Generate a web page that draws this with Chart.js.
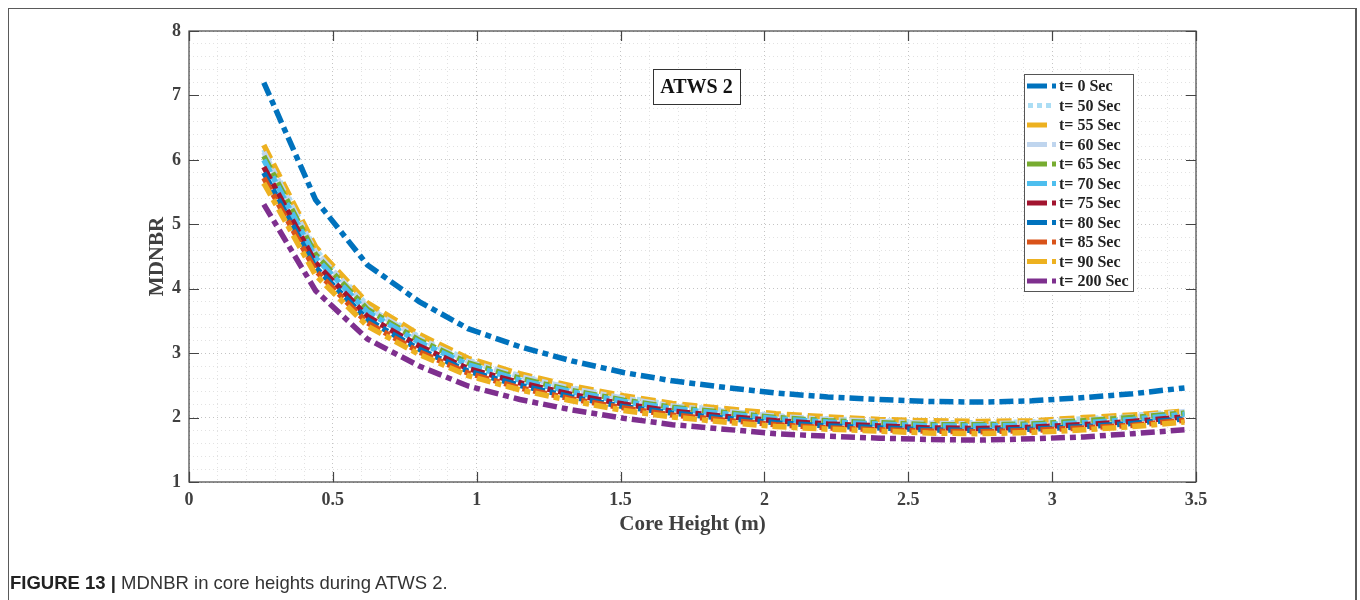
<!DOCTYPE html>
<html>
<head>
<meta charset="utf-8">
<title>MDNBR in core heights during ATWS 2</title>
<script src="https://cdn.jsdelivr.net/npm/chart.js@4.4.1/dist/chart.umd.min.js"></script>
<style>
  body { margin: 0; background: #fff; }
  #wrap { position: relative; width: 1360px; height: 600px; overflow: hidden; }
  #frame { position: absolute; left: 8px; top: 8px; width: 1349px; height: 600px;
           border: 1.5px solid #5a5a5a; border-right-width: 2px; border-bottom: none; box-sizing: border-box; }
  #chart { position: absolute; left: 0; top: 0; }
  #caption { position: absolute; left: 10px; top: 572px; font: 18.5px "Liberation Sans", Arial, sans-serif;
             color: #333; white-space: nowrap; }
  #caption b { color: #222; }
</style>
</head>
<body>
<div id="wrap">
  <div id="frame"></div>
  <canvas id="chart" width="1360" height="600"></canvas>
  <div id="caption"><b>FIGURE 13 |</b> MDNBR in core heights during ATWS 2.</div>
</div>
<script>
// core height positions (m)
const heights = [0.26, 0.44, 0.62, 0.80, 0.97, 1.15, 1.33, 1.51, 1.68, 1.86, 2.04, 2.22, 2.40, 2.57, 2.75, 2.93, 3.11, 3.28, 3.46];

const labels = ["t= 0 Sec", "t= 50 Sec", "t= 55 Sec", "t= 60 Sec", "t= 65 Sec", "t= 70 Sec",
                "t= 75 Sec", "t= 80 Sec", "t= 85 Sec", "t= 90 Sec", "t= 200 Sec"];

// MDNBR
const t0   = [7.20, 5.38, 4.37, 3.80, 3.38, 3.10, 2.88, 2.70, 2.57, 2.47, 2.38, 2.32, 2.28, 2.25, 2.24, 2.26, 2.31, 2.37, 2.46];
const t50  = [6.16, 4.60, 3.74, 3.25, 2.89, 2.65, 2.46, 2.31, 2.20, 2.11, 2.03, 1.98, 1.95, 1.92, 1.92, 1.93, 1.98, 2.03, 2.10];
const t55  = [6.23, 4.65, 3.78, 3.29, 2.92, 2.68, 2.49, 2.34, 2.22, 2.14, 2.06, 2.01, 1.97, 1.95, 1.94, 1.95, 2.00, 2.04, 2.10];
const t60  = [6.12, 4.57, 3.71, 3.23, 2.87, 2.64, 2.45, 2.30, 2.18, 2.10, 2.02, 1.97, 1.94, 1.91, 1.90, 1.92, 1.96, 2.01, 2.09];
const t65  = [6.06, 4.53, 3.68, 3.20, 2.85, 2.61, 2.42, 2.27, 2.16, 2.08, 2.00, 1.95, 1.92, 1.89, 1.89, 1.90, 1.95, 2.00, 2.07];
const t70  = [6.00, 4.48, 3.64, 3.17, 2.82, 2.58, 2.40, 2.25, 2.14, 2.06, 1.98, 1.93, 1.90, 1.87, 1.87, 1.88, 1.92, 1.97, 2.05];
const t75  = [5.89, 4.40, 3.57, 3.11, 2.76, 2.54, 2.36, 2.21, 2.10, 2.02, 1.95, 1.90, 1.87, 1.84, 1.83, 1.85, 1.89, 1.94, 2.01];
const t80  = [5.80, 4.33, 3.52, 3.06, 2.72, 2.50, 2.32, 2.17, 2.07, 1.99, 1.92, 1.87, 1.84, 1.81, 1.80, 1.82, 1.86, 1.91, 1.98];
const t85  = [5.72, 4.28, 3.47, 3.02, 2.69, 2.46, 2.29, 2.15, 2.04, 1.96, 1.89, 1.84, 1.81, 1.79, 1.78, 1.80, 1.84, 1.88, 1.96];
const t90  = [5.64, 4.21, 3.42, 2.98, 2.65, 2.43, 2.26, 2.11, 2.01, 1.93, 1.86, 1.82, 1.79, 1.76, 1.75, 1.77, 1.81, 1.86, 1.93];
const t200 = [5.31, 3.97, 3.22, 2.80, 2.49, 2.28, 2.12, 1.99, 1.89, 1.82, 1.75, 1.71, 1.68, 1.66, 1.65, 1.67, 1.70, 1.75, 1.81];

const xTicks = [0, 0.5, 1, 1.5, 2, 2.5, 3, 3.5];
const yTicks = [1, 2, 3, 4, 5, 6, 7, 8];

const series = [t0, t50, t55, t60, t65, t70, t75, t80, t85, t90, t200];
const colors = ["#0072BD", "#ABDDF4", "#EDB120", "#BFD5EE", "#77AC30", "#4DBEEE",
                "#A2142F", "#0072BD", "#D95319", "#EDB120", "#7E2F8E"];
const styles = ["dashdot", "dot", "dash", "dashdot", "dashdot", "dashdot",
                "dashdot", "dashdot", "dashdot", "dashdot", "dashdot"];
const dashFor = { dashdot: [14, 5, 6, 5], dot: [4, 5], dash: [15, 6] };

const FONT = "'Liberation Serif', 'Times New Roman', serif";
const INK = "#404040";

const near = (v, list) => list.some(t => Math.abs(v - t) < 1e-6);

const datasets = series.map((vals, i) => ({
  label: labels[i],
  data: heights.map((h, j) => ({ x: h, y: vals[j] })),
  borderColor: colors[i],
  borderWidth: 5.5,
  borderDash: dashFor[styles[i]],
  borderCapStyle: "butt",
  pointRadius: 0,
  tension: 0,
  fill: false,
  order: series.length - i
}));

// axes box, inward ticks, legend, annotation
const decor = {
  id: "decor",
  afterDraw(chart) {
    const { ctx, chartArea: a, scales: { x, y } } = chart;
    ctx.save();
    ctx.strokeStyle = "#444";
    ctx.lineWidth = 1.2;
    ctx.strokeRect(a.left, a.top, a.right - a.left, a.bottom - a.top);
    ctx.beginPath();
    xTicks.forEach(v => {
      const px = Math.round(x.getPixelForValue(v)) + 0.5;
      ctx.moveTo(px, a.bottom); ctx.lineTo(px, a.bottom - 10);
      ctx.moveTo(px, a.top); ctx.lineTo(px, a.top + 10);
    });
    yTicks.forEach(v => {
      const py = Math.round(y.getPixelForValue(v)) + 0.5;
      ctx.moveTo(a.left, py); ctx.lineTo(a.left + 10, py);
      ctx.moveTo(a.right, py); ctx.lineTo(a.right - 10, py);
    });
    ctx.stroke();

    // ATWS 2 label
    ctx.fillStyle = "#fff";
    ctx.fillRect(653, 69, 87, 35);
    ctx.strokeStyle = "#333";
    ctx.lineWidth = 1;
    ctx.strokeRect(653.5, 69.5, 87, 35);
    ctx.fillStyle = "#111";
    ctx.font = "bold 20px " + FONT;
    ctx.textAlign = "center";
    ctx.textBaseline = "middle";
    ctx.fillText("ATWS 2", 696.5, 88);

    // legend
    const lx = 1024, ly = 74, lw = 109, lh = 217, row = 19.5;
    ctx.fillStyle = "#fff";
    ctx.fillRect(lx, ly, lw, lh);
    ctx.strokeStyle = "#555";
    ctx.strokeRect(lx + 0.5, ly + 0.5, lw, lh);
    ctx.font = "bold 16px " + FONT;
    ctx.textAlign = "left";
    ctx.textBaseline = "middle";
    chart.data.datasets.forEach((ds, i) => {
      const cy = ly + 12 + i * row;
      ctx.strokeStyle = ds.borderColor;
      ctx.lineWidth = 5;
      ctx.lineCap = "butt";
      ctx.beginPath();
      if (styles[i] === "dot") {
        ctx.setLineDash([5, 4]);
        ctx.moveTo(1028, cy); ctx.lineTo(1053, cy);
      } else if (styles[i] === "dash") {
        ctx.setLineDash([]);
        ctx.moveTo(1027, cy); ctx.lineTo(1047, cy);
      } else {
        ctx.setLineDash([20, 5, 4, 10]);
        ctx.moveTo(1027, cy); ctx.lineTo(1056, cy);
      }
      ctx.stroke();
      ctx.setLineDash([]);
      ctx.fillStyle = "#222";
      ctx.fillText(ds.label, 1059, cy + 1);
    });
    ctx.restore();
  }
};

new Chart(document.getElementById("chart"), {
  type: "line",
  data: { datasets },
  plugins: [decor],
  options: {
    responsive: false,
    animation: false,
    layout: { padding: { top: 31, right: 164, left: 0, bottom: 0 } },
    plugins: { legend: { display: false }, tooltip: { enabled: false } },
    scales: {
      x: {
        type: "linear",
        min: 0, max: 3.5,
        afterFit: s => { s.height = 118; },
        ticks: {
          stepSize: 0.1, autoSkip: false, maxRotation: 0, maxTicksLimit: 100,
          padding: 8, color: INK,
          font: { family: FONT, size: 18, weight: "bold" },
          callback: v => near(v, xTicks) ? String(Math.round(v * 10) / 10) : ""
        },
        grid: {
          drawTicks: false, lineWidth: 1,
          color: c => near(c.tick.value, xTicks) ? "#c4c4c4" : "#e2e2e2"
        },
        border: { display: false, dash: [1, 3] },
        title: {
          display: true, text: "Core Height (m)", color: INK,
          font: { family: FONT, size: 21, weight: "bold" },
          padding: { top: 0, bottom: 63 }
        }
      },
      y: {
        min: 1, max: 8,
        afterFit: s => { s.width = 189; },
        ticks: {
          stepSize: 0.2, autoSkip: false, maxTicksLimit: 100,
          padding: 8, color: INK,
          font: { family: FONT, size: 18, weight: "bold" },
          callback: v => near(v, yTicks) ? String(Math.round(v)) : ""
        },
        grid: {
          drawTicks: false, lineWidth: 1,
          color: c => near(c.tick.value, yTicks) ? "#c4c4c4" : "#e2e2e2"
        },
        border: { display: false, dash: [1, 3] },
        title: {
          display: true, text: "MDNBR", color: INK,
          font: { family: FONT, size: 21, weight: "bold" },
          padding: { top: 145, bottom: 0 }
        }
      }
    }
  }
});
</script>
</body>
</html>
